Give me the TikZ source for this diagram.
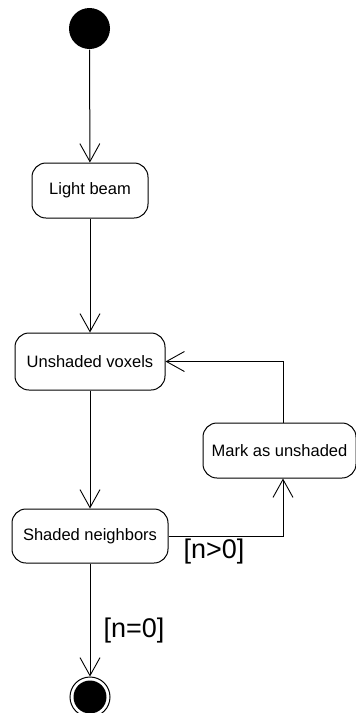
\documentclass[tikz,border=0pt]{standalone}
\usepackage{fontspec}
\setmainfont{Liberation Sans}
\usetikzlibrary{arrows.meta}
\begin{document}
\begin{tikzpicture}[x=1pt,y=-1pt,
  line width=1pt,
  activity/.style={draw, rounded corners=14pt, inner sep=0pt,
    font=\fontsize{16.5}{18}\selectfont},
  flow/.style={-{Straight Barb[length=18pt,width=20pt,line width=0.9pt]}},
  guard/.style={font=\fontsize{27}{30}\selectfont, inner sep=0pt}]
  \useasboundingbox (0,0) rectangle (356,713);
  % initial and final states
  \node[circle, fill=black, minimum size=41pt, inner sep=0pt] (start) at (89.5,28.5) {};
  \node[circle, draw, minimum size=40pt, inner sep=0pt] (end) at (90,697) {};
  \fill (end.center) circle (16.5);
  % activities
  \node[activity, minimum width=116pt, minimum height=55pt] (lb) at (90,190.5) {Light beam};
  \node[activity, minimum width=150pt, minimum height=57pt] (uv) at (90,361.5) {Unshaded voxels};
  \node[activity, minimum width=153pt, minimum height=55pt] (mu) at (279.5,450.5) {Mark as unshaded};
  \node[activity, minimum width=156pt, minimum height=54pt] (sn) at (90,536) {Shaded neighbors};
  % transitions
  \draw[flow] (start) -- (lb);
  \draw[flow] (lb) -- (uv);
  \draw[flow] (uv) -- (sn);
  \draw[flow] (sn) -- (end);
  \draw[flow] (sn.east) -| ([xshift=3.5pt]mu.south);
  \draw[flow] ([xshift=3.5pt]mu.north) |- (uv.east);
  % guards
  \node[guard] (g1) at (214,552) {[n>0]};
  \node[guard] (g2) at (134,631) {[n=0]};
\end{tikzpicture}
\end{document}
